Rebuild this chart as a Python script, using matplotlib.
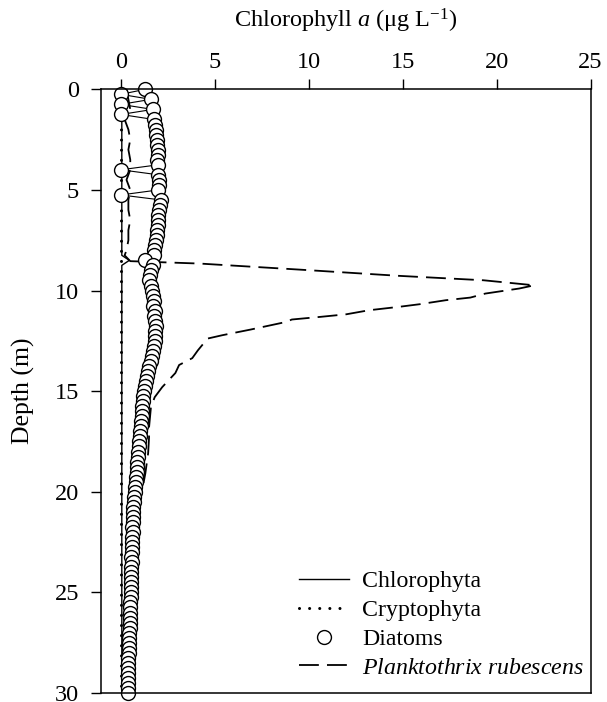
import numpy as np
import matplotlib
matplotlib.use("Agg")
import matplotlib.pyplot as plt
from matplotlib.lines import Line2D

plt.rcParams['font.family'] = ['Liberation Serif', 'DejaVu Serif']
plt.rcParams['mathtext.fontset'] = 'custom'
plt.rcParams['mathtext.rm'] = 'Liberation Serif'
plt.rcParams['mathtext.it'] = 'Liberation Serif:italic'

# diatoms, sampled every 0.25 m
depth_dia = np.arange(0, 30.01, 0.25)
diatoms = [1.3, 0.0, 1.6, 0.0, 1.7, 0.0, 1.75, 1.8, 1.85, 1.85,
           1.9, 1.9, 1.95, 1.95, 1.9, 2.0, 0.0, 2.0, 2.05, 2.05,
           2.0, 0.0, 2.15, 2.1, 2.05, 2.0, 1.95, 1.95, 1.9, 1.9,
           1.85, 1.8, 1.75, 1.75, 1.3, 1.7, 1.6, 1.55, 1.5, 1.6,
           1.65, 1.7, 1.75, 1.7, 1.8, 1.75, 1.8, 1.85, 1.8, 1.8,
           1.8, 1.75, 1.7, 1.65, 1.6, 1.5, 1.45, 1.4, 1.35, 1.3,
           1.25, 1.2, 1.2, 1.15, 1.1, 1.1, 1.05, 1.05, 1.0, 1.0,
           0.95, 0.95, 0.9, 0.9, 0.85, 0.85, 0.85, 0.8, 0.8, 0.75,
           0.75, 0.7, 0.7, 0.65, 0.65, 0.65, 0.65, 0.6, 0.65, 0.6,
           0.6, 0.6, 0.6, 0.55, 0.6, 0.55, 0.55, 0.55, 0.55, 0.55,
           0.55, 0.55, 0.5, 0.5, 0.5, 0.5, 0.5, 0.5, 0.45, 0.45,
           0.45, 0.45, 0.45, 0.4, 0.4, 0.4, 0.4, 0.4, 0.4, 0.38,
           0.37]

# Planktothrix rubescens
depth_pr = [0, 0.5, 1, 1.5, 2, 2.5, 3, 3.5, 4, 4.5, 5, 5.5, 6, 6.5, 7, 7.5,
            8, 8.25, 8.54, 8.66, 8.96, 9.27, 9.49, 9.74, 9.9, 10.15, 10.35,
            10.48, 10.68, 10.81, 10.98, 11.18, 11.31, 11.44, 11.56, 11.94,
            12.22, 12.39, 12.63, 12.97, 13.36, 13.7, 14.1, 14.8, 15.3, 15.8,
            16.8, 17.3, 18.1, 19.1, 20.1, 21, 22, 23, 24, 25, 26, 27, 28, 29, 30]
rubescens = [0.3, 0.4, 0.5, 0.2, 0.4, 0.5, 0.4, 0.5, 0.5, 0.3, 0.5, 0.4, 0.4,
             0.5, 0.4, 0.4, 0.3, 0.2, 0.5, 4.2, 9.5, 14.8, 19.3, 22.0, 21.2,
             19.4, 18.6, 17.3, 15.9, 14.8, 13.2, 12.0, 10.6, 9.1, 8.8, 6.9,
             5.4, 4.6, 4.4, 4.1, 3.8, 3.1, 2.9, 2.2, 1.8, 1.6, 1.5, 1.5, 1.45,
             1.3, 1.1, 0.9, 0.8, 0.75, 0.7, 0.65, 0.6, 0.55, 0.5, 0.45, 0.4]

# Chlorophyta and Cryptophyta stay near zero
depth_chl = [0, 8.25, 8.5, 8.75, 30]
chloro = [0.05, 0.05, 0.45, 0.05, 0.05]
depth_cry = [0, 30]
crypto = [0.0, 0.0]

fs = 17.5
fig = plt.figure(figsize=(6.07, 7.02), dpi=100)
ax = fig.add_axes([0.166, 0.0128, 0.807, 0.860])

ax.plot(chloro, depth_chl, color='black', lw=1.0)
ax.plot(crypto, depth_cry, color='black', lw=2.2,
        linestyle=(0, (0.01, 3.3)), dash_capstyle='round')
ax.plot(rubescens, depth_pr, color='black', lw=1.3, dashes=(11, 4.5))
ax.plot(diatoms, depth_dia, color='black', lw=0.8, marker='o', ms=10,
        mfc='white', mec='black', mew=1.0, clip_on=False)

ax.set_xlim(-1.07, 25)
ax.set_ylim(30, 0)
ax.set_xticks([0, 5, 10, 15, 20, 25])
ax.set_yticks([0, 5, 10, 15, 20, 25, 30])
ax.xaxis.tick_top()
ax.xaxis.set_label_position('top')
ax.tick_params(direction='out', length=7.5, width=1.0, labelsize=fs, pad=4)
ax.tick_params(axis='y', pad=8)
for s in ax.spines.values():
    s.set_linewidth(1.1)
ax.set_xlabel(r'Chlorophyll $\it{a}$ (μg L$^{\mathrm{-1}}$)', fontsize=fs,
              labelpad=18)
ax.set_ylabel('Depth (m)', fontsize=fs + 1, labelpad=14)

handles = [
    Line2D([], [], color='black', lw=1.0),
    Line2D([], [], color='black', lw=2.2, linestyle=(0, (0.01, 3.3)),
           dash_capstyle='round'),
    Line2D([], [], color='black', ls='none', marker='o', ms=10, mfc='white',
           mec='black', mew=1.0),
    Line2D([], [], color='black', lw=1.3, dashes=(11, 4.5)),
]
labels = ['Chlorophyta', 'Cryptophyta', 'Diatoms',
          r'$\it{Planktothrix\ rubescens}$']
ax.legend(handles, labels, loc='upper left', bbox_to_anchor=(0.405, 0.203),
          frameon=False, fontsize=17.2, handlelength=2.1, handletextpad=0.55,
          labelspacing=0.3, borderpad=0, borderaxespad=0)

fig.savefig('out.png', dpi=100)
